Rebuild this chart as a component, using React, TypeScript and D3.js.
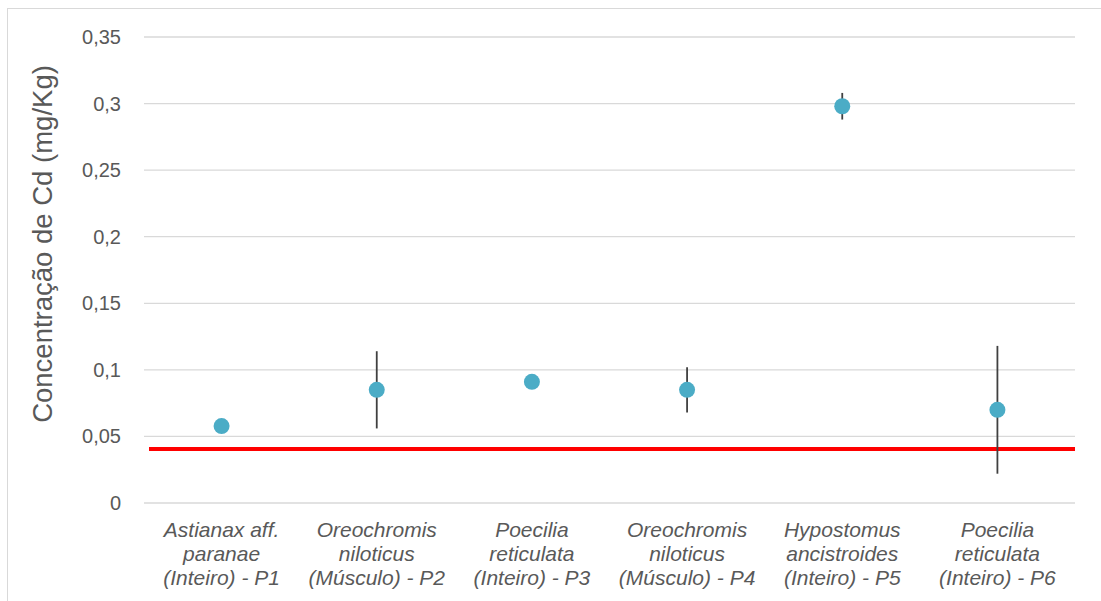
import React from "react";
import * as d3 from "d3";

const categories: string[][] = [
  ["Astianax aff.", "paranae", "(Inteiro) - P1"],
  ["Oreochromis", "niloticus", "(Músculo) - P2"],
  ["Poecilia", "reticulata", "(Inteiro) - P3"],
  ["Oreochromis", "niloticus", "(Músculo) - P4"],
  ["Hypostomus", "ancistroides", "(Inteiro) - P5"],
  ["Poecilia", "reticulata", "(Inteiro) - P6"],
];
const means = [0.0578, 0.085, 0.091, 0.085, 0.298, 0.07];
const errLow = [0.0558, 0.056, 0.091, 0.068, 0.288, 0.022];
const errHigh = [0.0598, 0.114, 0.091, 0.102, 0.308, 0.118];
const yTicks = [0, 0.05, 0.1, 0.15, 0.2, 0.25, 0.3, 0.35];
const limitValue = 0.0405;
const yTitle = "Concentração de Cd (mg/Kg)";

export default function App() {
  const W = 1101, H = 601;
  const left = 144, right = 1075, top = 37, bottom = 503;
  const x = d3.scaleBand<number>().domain(d3.range(categories.length)).range([left, right]);
  const y = d3.scaleLinear().domain([0, 0.35]).range([bottom, top]);
  const fmt = (v: number) => String(+v.toFixed(2)).replace(".", ",");
  const font = "'Liberation Sans', Arial, sans-serif";
  return (
    <svg width={W} height={H} style={{ position: "absolute", left: 0, top: 0, background: "#fff" }}>
      <rect x={7.5} y={8.5} width={W} height={H} fill="#fff" stroke="#d9d9d9" strokeWidth={1} />
      {yTicks.map((t) => (
        <g key={t}>
          <line x1={left} x2={right} y1={y(t)} y2={y(t)} stroke="#d9d9d9" strokeWidth={1.3} />
          <text x={121} y={y(t)} dy="0.35em" textAnchor="end" fontSize={20} fill="#595959" fontFamily={font}>
            {fmt(t)}
          </text>
        </g>
      ))}
      <text
        transform={`translate(52,244) rotate(-90)`}
        textAnchor="middle"
        fontSize={27.5}
        fill="#595959"
        fontFamily={font}
      >
        {yTitle}
      </text>
      <line x1={149} x2={right} y1={y(limitValue)} y2={y(limitValue)} stroke="#ff0000" strokeWidth={4} />
      {means.map((m, i) => {
        const cx = x(i)! + x.bandwidth() / 2;
        return (
          <g key={i}>
            {errHigh[i] > errLow[i] && (
              <line x1={cx} x2={cx} y1={y(errLow[i])} y2={y(errHigh[i])} stroke="#404040" strokeWidth={1.8} />
            )}
            <circle cx={cx} cy={y(m)} r={8} fill="#4bacc6" />
          </g>
        );
      })}
      {categories.map((lines, i) => {
        const cx = x(i)! + x.bandwidth() / 2;
        return (
          <text key={i} textAnchor="middle" fontSize={21} fontStyle="italic" fill="#595959" fontFamily={font}>
            {lines.map((l, j) => (
              <tspan key={j} x={cx} y={537 + j * 24}>
                {l}
              </tspan>
            ))}
          </text>
        );
      })}
    </svg>
  );
}
